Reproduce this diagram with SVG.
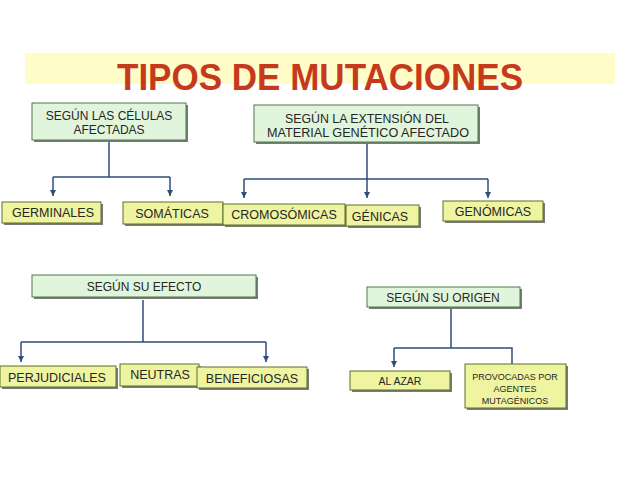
<svg xmlns="http://www.w3.org/2000/svg" width="638" height="479" viewBox="0 0 638 479">
<style>
  .t{font-family:"Liberation Sans",Arial,sans-serif;fill:#262626;text-anchor:middle}
  .g{fill:#E1F5DC;stroke:#4A7A48;stroke-width:1}
  .y{fill:#EEF4A0;stroke:#5E6E2A;stroke-width:1}
  .sh{fill:#7a7a7a}
  .c{fill:none;stroke:#2E4D7A;stroke-width:1.5}
</style>
<defs>
  <marker id="ah" viewBox="0 0 10 10" refX="10" refY="5" markerWidth="4" markerHeight="4" orient="auto" markerUnits="strokeWidth">
    <path d="M0,0 L10,5 L0,10 z" fill="#2E4D7A"/>
  </marker>
</defs>
<rect width="638" height="479" fill="#ffffff"/>
<rect x="25" y="53" width="590" height="31" fill="#FFFCC8"/>
<text x="320" y="90" font-family="Liberation Sans,Arial,sans-serif" font-weight="bold" font-size="37" fill="#C63A1C" text-anchor="middle" textLength="406" lengthAdjust="spacingAndGlyphs">TIPOS DE MUTACIONES</text>

<g id="connectors">
  <path class="c" d="M109,141 V177 M53,177 H170"/>
  <path class="c" d="M53,177 V196" marker-end="url(#ah)"/>
  <path class="c" d="M170,177 V196" marker-end="url(#ah)"/>
  <path class="c" d="M367,143 V179 M244,179 H488"/>
  <path class="c" d="M244,179 V198" marker-end="url(#ah)"/>
  <path class="c" d="M367,179 V198" marker-end="url(#ah)"/>
  <path class="c" d="M488,179 V198" marker-end="url(#ah)"/>
  <path class="c" d="M143,300 V342 M21,342 H266"/>
  <path class="c" d="M21,342 V362" marker-end="url(#ah)"/>
  <path class="c" d="M266,342 V362" marker-end="url(#ah)"/>
  <path class="c" d="M451,309 V348 M394,348 H512 V364"/>
  <path class="c" d="M394,348 V367" marker-end="url(#ah)"/>
</g>

<g id="n-celulas">
  <rect class="sh" x="34" y="105" width="154" height="37"/>
  <rect class="g" x="32" y="103" width="154" height="37"/>
  <text class="t" font-size="12" x="109" y="120">SEGÚN LAS CÉLULAS</text>
  <text class="t" font-size="12" x="109" y="134">AFECTADAS</text>
</g>
<g id="n-extension">
  <rect class="sh" x="256" y="107" width="224" height="37"/>
  <rect class="g" x="254" y="105" width="224" height="37"/>
  <text class="t" font-size="12" x="367" y="123" textLength="164" lengthAdjust="spacingAndGlyphs">SEGÚN LA EXTENSIÓN DEL</text>
  <text class="t" font-size="12" x="368" y="137" textLength="202" lengthAdjust="spacingAndGlyphs">MATERIAL GENÉTICO AFECTADO</text>
</g>
<g id="n-germinales">
  <rect class="sh" x="4" y="204" width="99" height="21"/>
  <rect class="y" x="2" y="202" width="99" height="21"/>
  <text class="t" font-size="12.5" x="53" y="217">GERMINALES</text>
</g>
<g id="n-somaticas">
  <rect class="sh" x="125" y="204" width="100" height="22"/>
  <rect class="y" x="123" y="202" width="100" height="22"/>
  <text class="t" font-size="12.5" x="172" y="218">SOMÁTICAS</text>
</g>
<g id="n-cromosomicas">
  <rect class="sh" x="225" y="206" width="122" height="21"/>
  <rect class="y" x="223" y="204" width="122" height="21"/>
  <text class="t" font-size="12.5" x="284" y="219">CROMOSÓMICAS</text>
</g>
<g id="n-genicas">
  <rect class="sh" x="348" y="207" width="73" height="21"/>
  <rect class="y" x="346" y="205" width="73" height="21"/>
  <text class="t" font-size="12.5" x="380" y="221">GÉNICAS</text>
</g>
<g id="n-genomicas">
  <rect class="sh" x="445" y="203" width="100" height="20"/>
  <rect class="y" x="443" y="201" width="100" height="20"/>
  <text class="t" font-size="12.5" x="493" y="216">GENÓMICAS</text>
</g>
<g id="n-efecto">
  <rect class="sh" x="34" y="277" width="224" height="22"/>
  <rect class="g" x="32" y="275" width="224" height="22"/>
  <text class="t" font-size="12" x="144" y="291">SEGÚN SU EFECTO</text>
</g>
<g id="n-origen">
  <rect class="sh" x="369" y="289" width="153" height="20"/>
  <rect class="g" x="367" y="287" width="153" height="20"/>
  <text class="t" font-size="12" x="443" y="302">SEGÚN SU ORIGEN</text>
</g>
<g id="n-perjudiciales">
  <rect class="sh" x="2" y="368" width="116" height="21"/>
  <rect class="y" x="0" y="366" width="116" height="21"/>
  <text class="t" font-size="12.5" x="57" y="382">PERJUDICIALES</text>
</g>
<g id="n-neutras">
  <rect class="sh" x="122" y="366" width="79" height="22"/>
  <rect class="y" x="120" y="364" width="79" height="22"/>
  <text class="t" font-size="12.5" x="160" y="379">NEUTRAS</text>
</g>
<g id="n-beneficiosas">
  <rect class="sh" x="199" y="369" width="110" height="21"/>
  <rect class="y" x="197" y="367" width="110" height="21"/>
  <text class="t" font-size="12.5" x="252" y="383">BENEFICIOSAS</text>
</g>
<g id="n-alazar">
  <rect class="sh" x="352" y="373" width="100" height="19"/>
  <rect class="y" x="350" y="371" width="100" height="19"/>
  <text class="t" font-size="10.5" x="400" y="385">AL AZAR</text>
</g>
<g id="n-provocadas">
  <rect class="sh" x="467" y="366" width="101" height="44"/>
  <rect class="y" x="465" y="364" width="101" height="44"/>
  <text class="t" font-size="9" x="515" y="380">PROVOCADAS POR</text>
  <text class="t" font-size="9" x="515" y="392">AGENTES</text>
  <text class="t" font-size="9" x="515" y="404">MUTAGÉNICOS</text>
</g>
</svg>
